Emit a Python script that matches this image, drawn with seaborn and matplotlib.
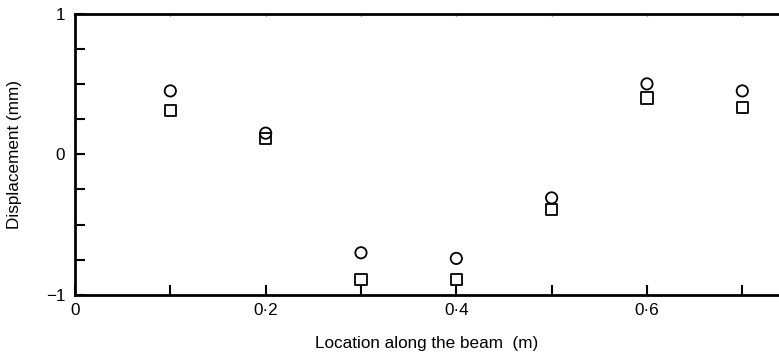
import matplotlib
matplotlib.use("Agg")
import matplotlib.pyplot as plt
import seaborn as sns
import pandas as pd
from matplotlib.ticker import FixedLocator, FuncFormatter

# Measured displacement at each location along the beam
location = [0.1, 0.2, 0.3, 0.4, 0.5, 0.6, 0.7]
disp_circle = [0.45, 0.15, -0.70, -0.74, -0.31, 0.50, 0.45]
disp_square = [0.31, 0.11, -0.89, -0.89, -0.39, 0.40, 0.33]

x_ticks_major = [0, 0.2, 0.4, 0.6]
x_ticks_minor = [0.1, 0.3, 0.5, 0.7]
y_ticks_major = [-1, 0, 1]
y_ticks_minor = [-0.75, -0.5, -0.25, 0.25, 0.5, 0.75]

sns.set_theme(style="ticks")
plt.rcParams["font.family"] = ["Liberation Sans", "DejaVu Sans"]

df = pd.concat([
    pd.DataFrame({"x": location, "y": disp_circle, "series": "circle"}),
    pd.DataFrame({"x": location, "y": disp_square, "series": "square"}),
])

fig = plt.figure(figsize=(7.79, 3.59), dpi=100)
ax = fig.add_axes([75 / 779, 64 / 359, 704 / 779, 281.5 / 359])

for name, mk in [("circle", "o"), ("square", "s")]:
    sub = df[df["series"] == name]
    sns.scatterplot(data=sub, x="x", y="y", marker=mk, s=66,
                    facecolor="none", edgecolor="black", linewidth=1.3,
                    ax=ax, legend=False, zorder=3)

ax.set_xlim(0, 0.7385)
ax.set_ylim(-1, 1)

ax.xaxis.set_major_locator(FixedLocator(x_ticks_major))
ax.xaxis.set_minor_locator(FixedLocator(x_ticks_minor))
ax.yaxis.set_major_locator(FixedLocator(y_ticks_major))
ax.yaxis.set_minor_locator(FixedLocator(y_ticks_minor))


def dot_fmt(v, pos):
    if abs(v) < 1e-9:
        return "0"
    if abs(v - round(v)) < 1e-9:
        return ("\u2212" if v < 0 else "") + str(abs(int(round(v))))
    return f"{v:.1f}".replace(".", "\u00b7")


ax.xaxis.set_major_formatter(FuncFormatter(dot_fmt))
ax.yaxis.set_major_formatter(FuncFormatter(dot_fmt))

ax.tick_params(axis="both", which="both", direction="in", length=7,
               width=1.5, color="black", labelsize=12.3, labelcolor="black")
ax.tick_params(axis="x", which="both", bottom=True, top=False, pad=6)
ax.tick_params(axis="y", which="both", pad=7)

# short marks along the top edge
top = ax.secondary_xaxis("top")
top.xaxis.set_major_locator(FixedLocator(x_ticks_major + x_ticks_minor))
top.tick_params(direction="in", length=2, width=1, color="#555555",
                labeltop=False)
top.spines["top"].set_visible(False)

for side in ["left", "bottom", "top"]:
    ax.spines[side].set_visible(True)
    ax.spines[side].set_color("black")
    ax.spines[side].set_linewidth(2)
ax.spines["right"].set_visible(False)

ax.set_xlabel("Location along the beam  (m)", fontsize=12.3, color="black",
              labelpad=13)
ax.set_ylabel("Displacement (mm)", fontsize=12.3, color="black", labelpad=17)

fig.savefig("out.png", dpi=100)
